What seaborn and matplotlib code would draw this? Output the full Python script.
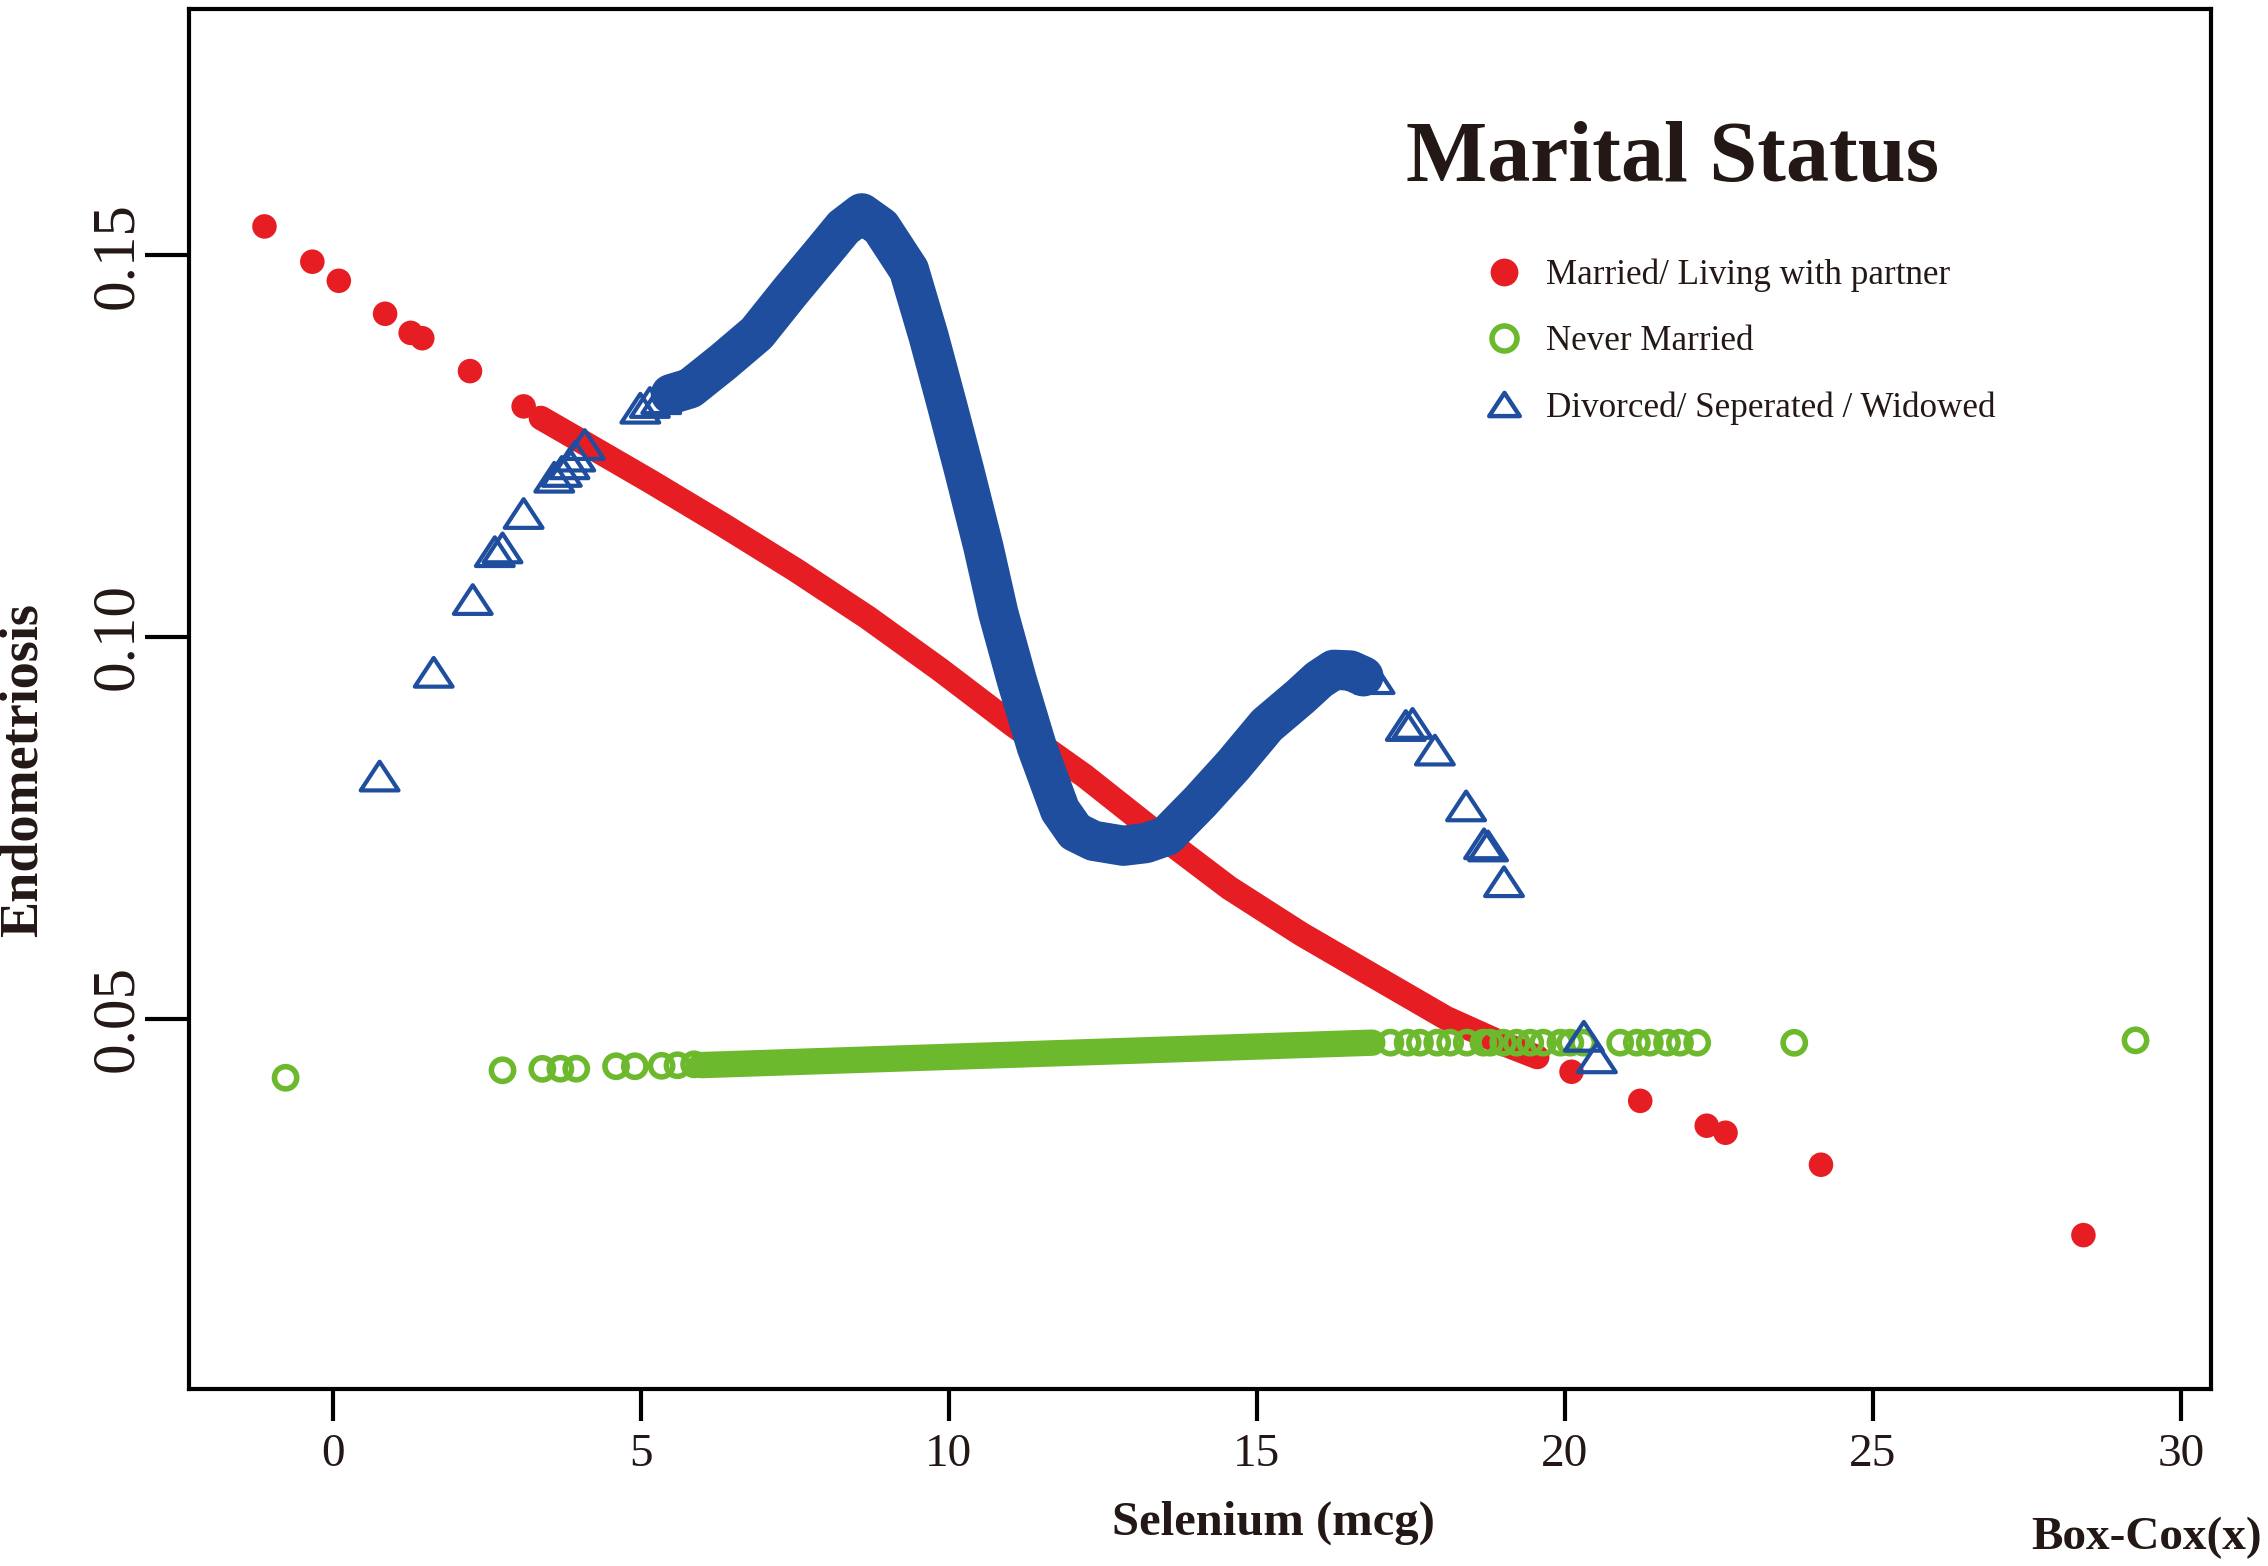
import numpy as np
import pandas as pd
import matplotlib
matplotlib.use("Agg")
import matplotlib.pyplot as plt
from matplotlib.lines import Line2D
import seaborn as sns

# values (x = Box-Cox selenium, y = endometriosis)
# Married / living with partner: isolated dots at both ends + dense middle run
married_x = [-1.106, -0.329, 0.101, 0.852, 1.267, 1.455, 2.230, 3.101,
             20.110, 21.225, 22.305, 22.610, 24.159, 28.419]
married_y = [0.15377, 0.14915, 0.14665, 0.14233, 0.13983, 0.13913, 0.13482, 0.13020,
             0.04305, 0.03924, 0.03598, 0.03506, 0.03087, 0.02165]
married_run_x = [3.380, 3.990, 5.164, 6.338, 7.511, 8.685, 9.859, 11.032,
                 12.206, 13.380, 14.554, 15.727, 16.901, 18.075, 19.014, 19.554]
married_run_y = [0.12869, 0.12585, 0.12035, 0.11467, 0.10880, 0.10255, 0.09573, 0.08853,
                 0.08180, 0.07430, 0.06713, 0.06107, 0.05557, 0.05008, 0.04667, 0.04497]

# Never married
never_x = [-0.763, 2.758, 3.404, 3.697, 3.955, 4.601, 4.906, 5.340, 5.598, 5.868,
           17.17, 17.45, 17.65, 17.93, 18.14, 18.41, 18.68, 18.79, 19.00, 19.22, 19.44,
           19.65, 19.93, 20.09, 20.30, 20.90, 21.17, 21.38, 21.66, 21.87, 22.15,
           23.725, 29.265]
never_y = [0.04226, 0.04324, 0.04343, 0.04345, 0.04345, 0.04377, 0.04377, 0.04383, 0.04390, 0.04402,
           0.04686, 0.04686, 0.04686, 0.04686, 0.04686, 0.04686, 0.04686, 0.04686, 0.04686,
           0.04686, 0.04686, 0.04686, 0.04686, 0.04686, 0.04686, 0.04686, 0.04686, 0.04686,
           0.04686, 0.04686, 0.04686, 0.04684, 0.04716]
never_run_x = [5.985, 13.004, 16.877]
never_run_y = [0.04392, 0.04581, 0.04686]

# Divorced / separated / widowed
divorced_x = [0.763, 1.641, 2.275, 2.633, 2.758, 3.101, 3.598, 3.720, 3.845, 3.939, 4.093,
              4.995, 5.150, 5.335,
              16.913, 17.420, 17.530, 17.892, 18.399, 18.690, 18.755, 19.014, 20.310, 20.522]
divorced_y = [0.08178, 0.09537, 0.10490, 0.11117, 0.11166, 0.11617, 0.12092, 0.12168, 0.12268,
              0.12369, 0.12520, 0.12996, 0.13071, 0.13121,
              0.09454, 0.08840, 0.08868, 0.08518, 0.07787, 0.07290, 0.07262, 0.06794,
              0.04769, 0.04487]
divorced_run_x = [5.490, 5.802, 6.343, 6.885, 7.425, 7.966, 8.291, 8.589, 8.900,
                  9.356, 9.676, 9.966, 10.250, 10.563, 10.807, 11.105, 11.430, 11.808,
                  12.053, 12.350, 12.836, 13.200, 13.541, 14.081, 14.622, 15.164, 15.705,
                  16.010, 16.250, 16.520, 16.732]
divorced_run_y = [0.13180, 0.13256, 0.13605, 0.13977, 0.14522, 0.15046, 0.15365, 0.15549,
                  0.15370, 0.14806, 0.13932, 0.13060, 0.12186, 0.11181, 0.10309, 0.09436,
                  0.08562, 0.07732, 0.07448, 0.07330, 0.07265, 0.07300, 0.07396, 0.07841,
                  0.08322, 0.08846, 0.09216, 0.09442, 0.09570, 0.09561, 0.09484]

labels = ["Married/ Living with partner", "Never Married", "Divorced/ Seperated / Widowed"]
x_ticks = [0, 5, 10, 15, 20, 25, 30]
y_ticks = [0.05, 0.10, 0.15]

red = "#E61E23"
green = "#6DB92E"
blue = "#1F4E9E"
ink = "#231815"
serif = "Liberation Serif"

sns.set_theme(style="white")
plt.rcParams["font.family"] = [serif, "DejaVu Serif"]

# flattened open triangle like R's pch=2
tri = [(0, -0.76), (1, -0.76), (0, 0.76), (-1, -0.76), (0, -0.76)]

fig = plt.figure(figsize=(11.34, 7.83), dpi=200)
ax = fig.add_axes([0.08355, 0.11315, 0.97487 - 0.08355, 0.99425 - 0.11315])

line_kw = dict(sort=False, estimator=None, solid_capstyle="round",
               solid_joinstyle="round", legend=False, ax=ax)

# never married
sns.lineplot(x=never_run_x, y=never_run_y, color=green, lw=9.5, **line_kw)
sns.scatterplot(x=never_x, y=never_y, marker="o", s=64, color=green,
                facecolor="none", edgecolor=green, linewidth=2.0, ax=ax, zorder=3)

# married
sns.lineplot(x=married_run_x, y=married_run_y, color=red, lw=8.8, **line_kw)
sns.scatterplot(x=married_x, y=married_y, marker="o", s=78, color=red,
                edgecolor="none", linewidth=0, ax=ax, zorder=4)

# divorced
sns.lineplot(x=divorced_run_x, y=divorced_run_y, color=blue, lw=14.5, **line_kw)
sns.scatterplot(x=divorced_x, y=divorced_y, marker=tri, s=185, color=blue,
                facecolor="none", edgecolor=blue, linewidth=1.5, ax=ax, zorder=5)

ax.set_xlim(-2.323, 30.49)
ax.set_ylim(0.00152, 0.18225)
ax.set_xticks(x_ticks)
ax.set_xticklabels([str(t) for t in x_ticks])
ax.set_yticks(y_ticks)
ax.set_yticklabels(["%.2f" % t for t in y_ticks])
ax.set_xlabel("")
ax.set_ylabel("")

for sp in ax.spines.values():
    sp.set_visible(True)
    sp.set_color("black")
    sp.set_linewidth(1.5)

ax.tick_params(axis="x", direction="out", length=11.5, width=1.5, color="black",
               pad=4.5, labelsize=17, labelcolor=ink, bottom=True)
ax.tick_params(axis="y", direction="out", length=16, width=1.5, color="black",
               pad=0, labelsize=22, labelcolor=ink, left=True, labelrotation=90)
for lab in ax.get_yticklabels():
    lab.set_verticalalignment("center")

# title and legend inside the box
ax.text(0.7337, 0.8755, "Marital Status", transform=ax.transAxes, ha="center",
        va="baseline", fontsize=31, fontweight="bold", color=ink, family=serif)

handles = [
    Line2D([], [], ls="none", marker="o", ms=10, mfc=red, mec=red, mew=0),
    Line2D([], [], ls="none", marker="o", ms=9, mfc="none", mec=green, mew=2),
    Line2D([], [], ls="none", marker=tri, ms=11, mfc="none", mec=blue, mew=1.6),
]
leg = ax.legend(handles, labels, loc="upper left", bbox_to_anchor=(0.6414, 0.819),
                frameon=False, borderpad=0, borderaxespad=0, handlelength=1.0,
                handletextpad=0.70, labelspacing=0.94, fontsize=12.6)
for t in leg.get_texts():
    t.set_color(ink)

fig.text(0.5617, 0.0198, "Selenium (mcg)", ha="center", va="baseline",
         fontsize=17.5, fontweight="bold", color=ink, family=serif)
fig.text(0.9973, 0.0109, "Box-Cox(x)", ha="right", va="baseline",
         fontsize=17, fontweight="bold", color=ink, family=serif)
fig.text(0.0105, 0.5084, "Endometriosis", ha="center", va="center", rotation=90,
         fontsize=19.5, fontweight="bold", color=ink, family=serif)

fig.savefig("out.png", dpi=200, facecolor="white")
